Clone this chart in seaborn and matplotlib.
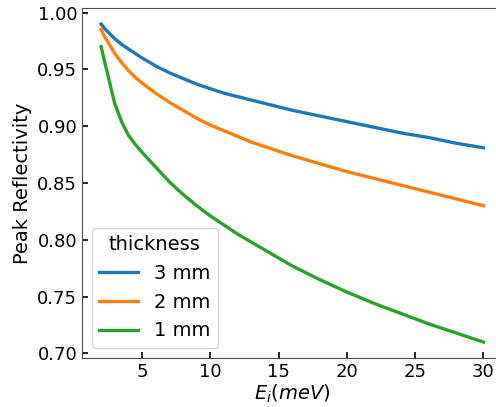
import pandas as pd
import matplotlib
matplotlib.use("Agg")
import matplotlib.pyplot as plt
import seaborn as sns

# incident energy (meV)
energy = [2, 2.25, 2.5, 2.75, 3, 3.5, 4, 4.5, 5, 6, 7, 8, 9, 10, 11, 12, 13, 14,
          16, 18, 20, 22, 24, 26, 28, 30]

# peak reflectivity for each crystal thickness
refl_3mm = [0.990, 0.986, 0.983, 0.980, 0.977, 0.972, 0.968, 0.964, 0.960, 0.953,
            0.947, 0.942, 0.937, 0.933, 0.929, 0.926, 0.923, 0.920,
            0.914, 0.909, 0.904, 0.899, 0.894, 0.890, 0.885, 0.881]
refl_2mm = [0.985, 0.979, 0.974, 0.969, 0.964, 0.956, 0.949, 0.943, 0.938, 0.929,
            0.921, 0.914, 0.907, 0.901, 0.896, 0.891, 0.886, 0.882,
            0.874, 0.867, 0.860, 0.854, 0.848, 0.842, 0.836, 0.830]
refl_1mm = [0.970, 0.957, 0.945, 0.932, 0.920, 0.904, 0.892, 0.884, 0.877, 0.864,
            0.851, 0.840, 0.830, 0.821, 0.813, 0.805, 0.798, 0.791,
            0.777, 0.765, 0.754, 0.744, 0.735, 0.726, 0.718, 0.710]

thickness_labels = ["3 mm", "2 mm", "1 mm"]

rows = []
for lab, vals in zip(thickness_labels, [refl_3mm, refl_2mm, refl_1mm]):
    for e, r in zip(energy, vals):
        rows.append({"Ei": e, "reflectivity": r, "thickness": lab})
df = pd.DataFrame(rows)

plt.rcParams["font.size"] = 14
plt.rcParams["axes.edgecolor"] = "0.3"

fig = plt.figure(figsize=(4.96, 4.07), dpi=100)
ax = fig.add_axes([0.1653, 0.1204, 0.848, 0.8599])

sns.lineplot(data=df, x="Ei", y="reflectivity", hue="thickness",
             hue_order=thickness_labels, palette="tab10", linewidth=2.4, ax=ax)

ax.set_xlabel("$E_i(meV)$", fontsize=14, labelpad=1)
ax.set_ylabel("Peak Reflectivity", fontsize=14)
ax.set_xticks([5, 10, 15, 20, 25, 30])
ax.set_yticks([0.70, 0.75, 0.80, 0.85, 0.90, 0.95, 1.00])
ax.tick_params(direction="in", length=4, width=1.2, labelsize=13)
ax.spines["right"].set_visible(False)
ax.margins(0.05)

leg = ax.legend(title="thickness", loc="lower left", fontsize=14, title_fontsize=14)
for line in leg.get_lines():
    line.set_linewidth(2.4)

fig.savefig("out.png", dpi=100)
